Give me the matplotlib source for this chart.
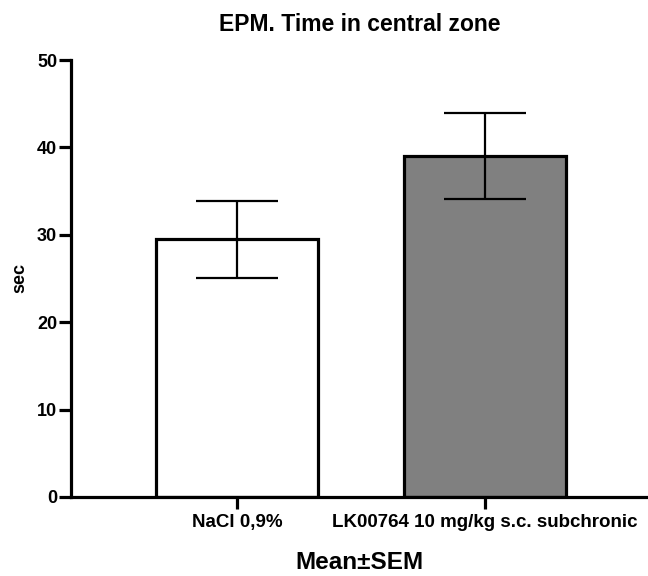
import matplotlib
matplotlib.use("Agg")
import matplotlib.pyplot as plt

categories = ["NaCl 0,9%", "LK00764 10 mg/kg s.c. subchronic"]
means = [29.5, 39.0]
sems = [4.4, 4.9]
colors = ["#ffffff", "#808080"]
yticks = [0, 10, 20, 30, 40, 50]

plt.rcParams['font.family'] = ['Liberation Sans', 'DejaVu Sans']
plt.rcParams['font.weight'] = 'bold'

fig = plt.figure(figsize=(6.48, 5.76), dpi=100)
ax = fig.add_axes([0.1096, 0.1372, 0.8904, 0.7586])

x = list(range(len(categories)))
ax.bar(x, means, width=0.653, color=colors, edgecolor='black', linewidth=2.3, zorder=2)
ax.errorbar(x, means, yerr=sems, fmt='none', ecolor='black', elinewidth=1.6,
            capsize=29.5, capthick=1.6, zorder=3)

ax.set_xlim(-0.669, 1.657)
ax.set_ylim(0, 50)
ax.set_yticks(yticks)
ax.set_xticks(x)
ax.set_xticklabels(categories)
for s in ['top', 'right']:
    ax.spines[s].set_visible(False)
for s in ['left', 'bottom']:
    ax.spines[s].set_linewidth(2.3)
ax.tick_params(axis='both', length=8.5, width=2.3, pad=1.5)
ax.tick_params(axis='y', labelsize=13)
ax.tick_params(axis='x', labelsize=13.5, pad=4)
for lbl in ax.get_xticklabels() + ax.get_yticklabels():
    lbl.set_fontweight('bold')

ax.set_title("EPM. Time in central zone", fontsize=16.5, fontweight='bold', pad=21)
ax.set_ylabel("sec", fontsize=13, fontweight='bold', labelpad=6)
ax.set_xlabel("Mean±SEM", fontsize=17.5, fontweight='bold', labelpad=14)

fig.savefig("out.png", dpi=100)
